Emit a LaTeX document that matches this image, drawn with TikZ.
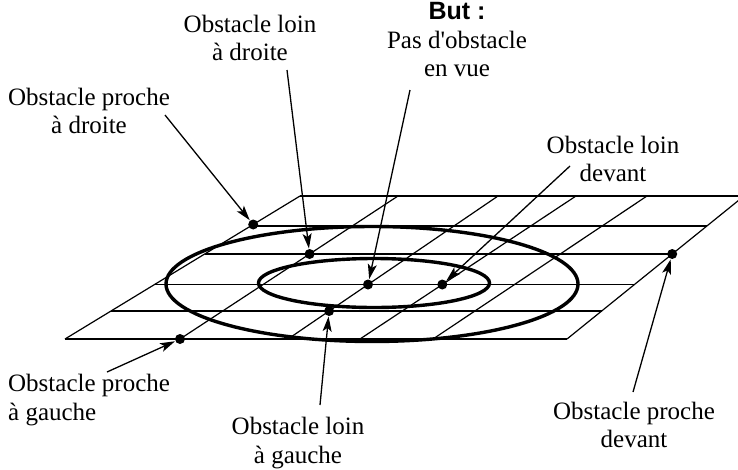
\documentclass[tikz,border=0pt]{standalone}
\usepackage{fontspec}
\setmainfont{Liberation Serif}
\newfontfamily\butfont{Liberation Sans}
\usetikzlibrary{arrows.meta,calc}
\begin{document}
\begin{tikzpicture}[x=1pt,y=-1pt,
  lbl/.style={font=\fontsize{25}{28.5}\selectfont, align=center, inner sep=0pt},
  lbll/.style={font=\fontsize{25}{28.5}\selectfont, align=left, inner sep=0pt},
  gridline/.style={line width=1.2pt},
  ring/.style={line width=3.4pt},
  dot/.style={circle, fill=black, inner sep=0pt, minimum size=10pt},
  pointer/.style={line width=1.3pt, -{Stealth[length=15pt,width=9pt,inset=3.5pt]}, shorten >=0.3pt}
]
\useasboundingbox (0,0) rectangle (738,469);
% grid corners
\coordinate (BL) at (65,339);
\coordinate (TL) at (300,196);
\coordinate (BR) at (567,339);
\coordinate (TR) at (744,196);
\begin{scope}
\clip (0,0) rectangle (738,469);
\foreach \t in {0,0.1958,0.3811,0.5944,0.7902,1}
  \draw[gridline] ($(BL)!\t!(TL)$) -- ($(BR)!\t!(TR)$);
\draw[gridline] (BL) -- (TL);
\draw[gridline] (180,339) -- (398,196);
\draw[gridline] (288,339) -- (498,196);
\draw[gridline] (360,339) -- (576,196);
\draw[gridline] (433,339) -- (647,196);
\draw[gridline] (BR) -- (TR);
\end{scope}
% rings
\draw[ring] (372,284) ellipse [x radius=206pt, y radius=57.5pt];
\draw[ring] (374,283) ellipse [x radius=115.5pt, y radius=24.5pt];
% dots
\node[dot] (dPD) at (253.2,224.5) {};
\node[dot] (dLD) at (309.6,254) {};
\node[dot] (dC)  at (368,284.5) {};
\node[dot] (dLV) at (442.3,284.5) {};
\node[dot] (dLG) at (329.1,311) {};
\node[dot] (dPG) at (180,339) {};
\node[dot] (dPV) at (672.2,254) {};
% labels
\node[lbl] (nLD) at (250,38) {Obstacle loin\\à droite};
\node[lbl] (nC) at (457,40) {{\butfont\bfseries But :}\\Pas d\textquotesingle obstacle\\en vue};
\node[lbl] (nPD) at (89,111) {Obstacle proche\\à droite};
\node[lbl] (nLV) at (613,159) {Obstacle loin\\devant};
\node[lbll] (nPG) at (8,400) [anchor=west] {Obstacle proche\\à gauche};
\node[lbl] (nLG) at (298,443) {Obstacle loin\\à gauche};
\node[lbl] (nPV) at (634,425) {Obstacle proche\\devant};
% arrow tails
\coordinate (tPD) at (165,115);
\coordinate (tLD) at (287,70);
\coordinate (tC)  at (410,90);
\coordinate (tLV) at (570,166);
\coordinate (tPG) at (107,372);
\coordinate (tLG) at (320,405);
\coordinate (tPV) at (633,392);
\draw[pointer] (tPD) -- (dPD);
\draw[pointer] (tLD) -- (dLD);
\draw[pointer] (tC) -- (dC);
\draw[pointer] (tLV) -- (dLV);
\draw[pointer] (tPG) -- (dPG);
\draw[pointer] (tLG) -- (dLG);
\draw[pointer] (tPV) -- (dPV);
\end{tikzpicture}
\end{document}
